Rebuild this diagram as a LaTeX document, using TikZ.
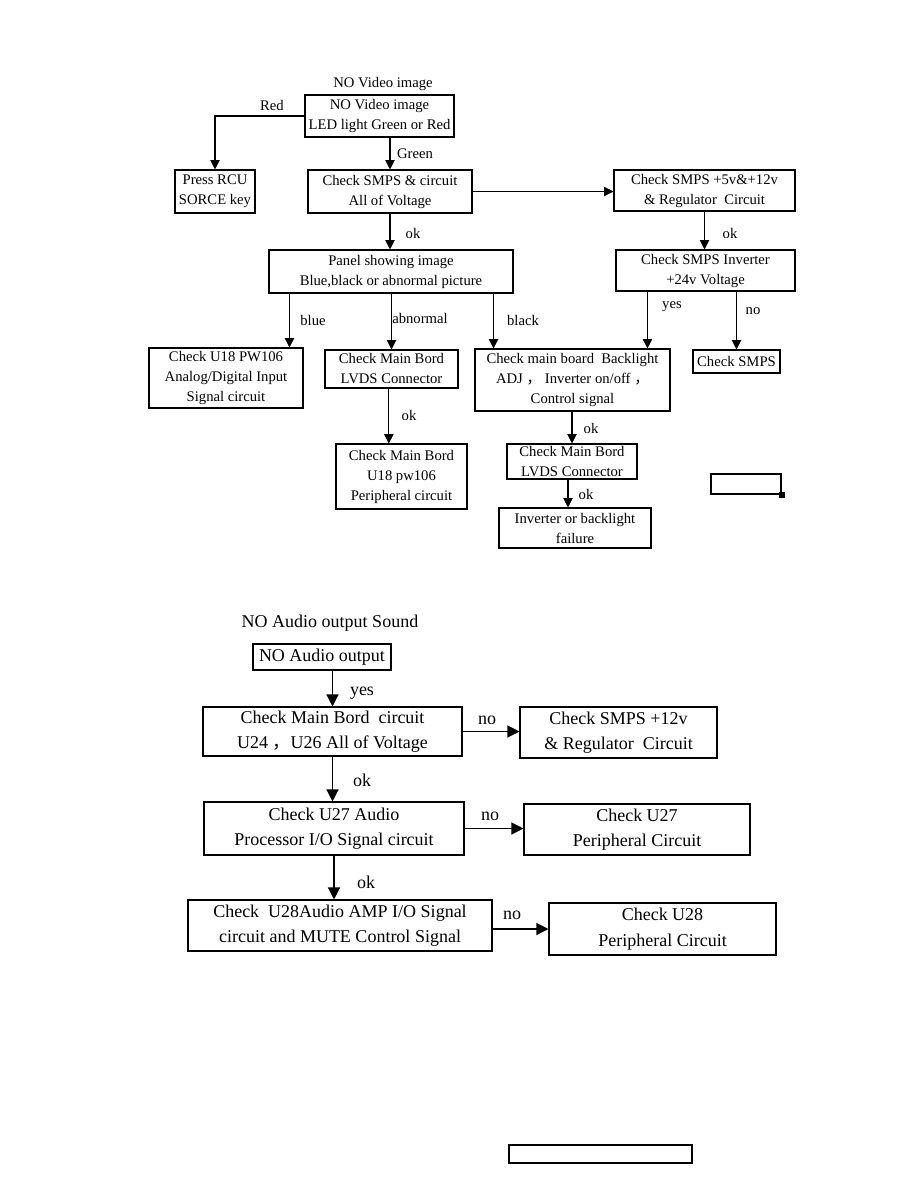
\documentclass[tikz,border=0pt]{standalone}
\usepackage{fontspec}
\setmainfont{Liberation Serif}
\newfontfamily\cjk{Noto Sans CJK SC}
\usetikzlibrary{arrows.meta,positioning,calc}

\newcommand{\vidfont}{\fontsize{11}{15}\selectfont}
\newcommand{\audfont}{\fontsize{13.5}{19}\selectfont}
\newcommand{\fwc}{{\cjk ，}}

\tikzset{
  vbox/.style={draw, line width=0.8pt, inner sep=0pt, align=center, font=\vidfont},
  abox/.style={draw, line width=0.8pt, inner sep=0pt, align=center, font=\audfont},
  wh/.style 2 args={minimum width=#1*0.75pt, minimum height=#2*0.75pt},
  vlbl/.style={inner sep=0pt, font=\vidfont},
  albl/.style={inner sep=0pt, font=\audfont},
  varr/.style={line width=0.8pt, -{Triangle[length=7pt,width=7pt]}},
  aarr/.style={line width=0.9pt, -{Triangle[length=9pt,width=9pt]}},
}

\begin{document}
\begin{tikzpicture}[x=0.75pt, y=-0.75pt]
\fill[white] (0,0) rectangle (914,1186);
\useasboundingbox (0,0) rectangle (914,1186);

% NO Video image
\node[vlbl] (vtitle) at (383,84) {NO Video image};
\node[vbox, wh={149}{42}] (led) at (379.5,116) {NO Video image\\LED light Green or Red};
\node[vbox, wh={80}{43}] (rcu) at (215,191.5) {Press RCU\\SORCE key};
\node[vbox, wh={164}{43}] (smps) at (390,191.5) {Check SMPS \& circuit\\All of Voltage};
\node[vbox, wh={181}{41}] (smpsreg) at (704.5,190.5) {Check SMPS +5v\&+12v\\\& Regulator\ \ Circuit};
\node[vbox, wh={179}{41}] (inv) at (705.5,270.5) {Check SMPS Inverter\\+24v Voltage};
\node[vbox, wh={87}{23}] (smpsck) at (736.5,361.5) {Check SMPS};
\node[vbox, wh={244}{43}] (panel) at (391,271.5) {Panel showing image\\Blue,black or abnormal picture};
\node[vbox, wh={154}{60}] (u18) at (226,378) {Check U18 PW106\\Analog/Digital Input\\Signal circuit};
\node[vbox, wh={133}{38}] (lvdsa) at (391.5,369) {Check Main Bord\\LVDS Connector};
\node[vbox, wh={131}{65}] (u18per) at (401.5,476.5) {Check Main Bord\\U18 pw106\\Peripheral circuit};
\node[vbox, wh={195}{62}] (backl) at (572.5,380) {Check main board\ \ Backlight\\ADJ \fwc\ Inverter on/off \fwc\\Control signal};
\node[vbox, wh={130}{35}] (lvdsb) at (572,461.5) {Check Main Bord\\LVDS Connector};
\node[vbox, wh={152}{40}] (fail) at (575,528) {Inverter or backlight\\failure};
\node[draw, line width=1.6pt, inner sep=0pt, wh={70}{20}] (pgbox) at (746,484) {};
\fill (pgbox.south east) +(-2.5pt,-2.5pt) rectangle +(2.5pt,2.5pt);

\draw[varr] (led.west) -| (rcu.north);
\draw[varr] (led.south -| smps.north) -- (smps.north);
\draw[varr] (smps.east) -- (smps.east -| smpsreg.west);
\draw[varr] (smpsreg.south) -- (smpsreg.south |- inv.north);
\draw[varr] (smps.south) -- (smps.south |- panel.north);
\draw[varr] ([xshift=15.75pt]panel.south west) -- ([xshift=15.75pt]panel.south west |- u18.north);
\draw[varr] (panel.south -| lvdsa.north) -- (lvdsa.north);
\draw[varr] ([xshift=-15pt]panel.south east) -- ([xshift=-15pt]panel.south east |- backl.north);
\draw[varr] ([xshift=24pt]inv.south west) -- ([xshift=24pt]inv.south west |- backl.north);
\draw[varr] (inv.south -| smpsck.north) -- (smpsck.north);
\draw[varr] ([xshift=-2pt]lvdsa.south) -- ([xshift=-2pt]lvdsa.south |- u18per.north);
\draw[varr] (backl.south -| lvdsb.north) -- (lvdsb.north);
\draw[varr] ([xshift=-3pt]lvdsb.south) -- ([xshift=-3pt]lvdsb.south |- fail.north);

\node[vlbl] (lred) at (272,105) {Red};
\node[vlbl] (lgreen) at (415,154) {Green};
\node[vlbl] (lok1) at (413,233) {ok};
\node[vlbl] (lok2) at (730,233) {ok};
\node[vlbl] (lyes) at (672,307) {yes};
\node[vlbl] (lno) at (753,311) {no};
\node[vlbl] (lblue) at (313,320) {blue};
\node[vlbl] (labn) at (420,318) {abnormal};
\node[vlbl] (lblack) at (523,320) {black};
\node[vlbl] (lok3) at (409,415) {ok};
\node[vlbl] (lok4) at (591,428) {ok};
\node[vlbl] (lok5) at (586,494) {ok};

% NO Audio output Sound
\node[albl] (atitle) at (330,623) {NO Audio output Sound};
\node[abox, wh={138}{26}] (noaud) at (322,657) {NO Audio output};
\node[abox, wh={259}{49}] (mainv) at (332.5,731.5) {Check Main Bord\ \ circuit\\U24 \fwc U26 All of Voltage};
\node[abox, wh={197}{51}] (smps12) at (618.5,732.5) {Check SMPS +12v\\\& Regulator\ \ Circuit};
\node[abox, wh={260}{53}] (u27) at (334,828.5) {Check U27 Audio\\Processor I/O Signal circuit};
\node[abox, wh={226}{51}] (u27per) at (637,829.5) {Check U27\\Peripheral Circuit};
\node[abox, wh={304}{51}] (u28) at (340,925.5) {Check\ \ U28Audio AMP I/O Signal\\circuit and MUTE Control Signal};
\node[abox, wh={227}{52}] (u28per) at (662.5,929) {Check U28\\Peripheral Circuit};
\node[draw, line width=1.4pt, inner sep=0pt, wh={183}{18}] (pgnum) at (600.5,1154) {};

\draw[aarr] (noaud.south -| mainv.north) -- (mainv.north);
\draw[aarr] (mainv.east) -- (mainv.east -| smps12.west);
\draw[aarr] (mainv.south) -- (mainv.south |- u27.north);
\draw[aarr] (u27.east) -- (u27.east -| u27per.west);
\draw[aarr] (u27.south) -- (u27.south |- u28.north);
\draw[aarr] (u28.east |- u28per.west) -- (u28per.west);

\node[albl] (ayes) at (362,693) {yes};
\node[albl] (ano1) at (487,720) {no};
\node[albl] (aok1) at (362,780) {ok};
\node[albl] (ano2) at (490,816) {no};
\node[albl] (aok2) at (366,882) {ok};
\node[albl] (ano3) at (512,915) {no};
\end{tikzpicture}
\end{document}
